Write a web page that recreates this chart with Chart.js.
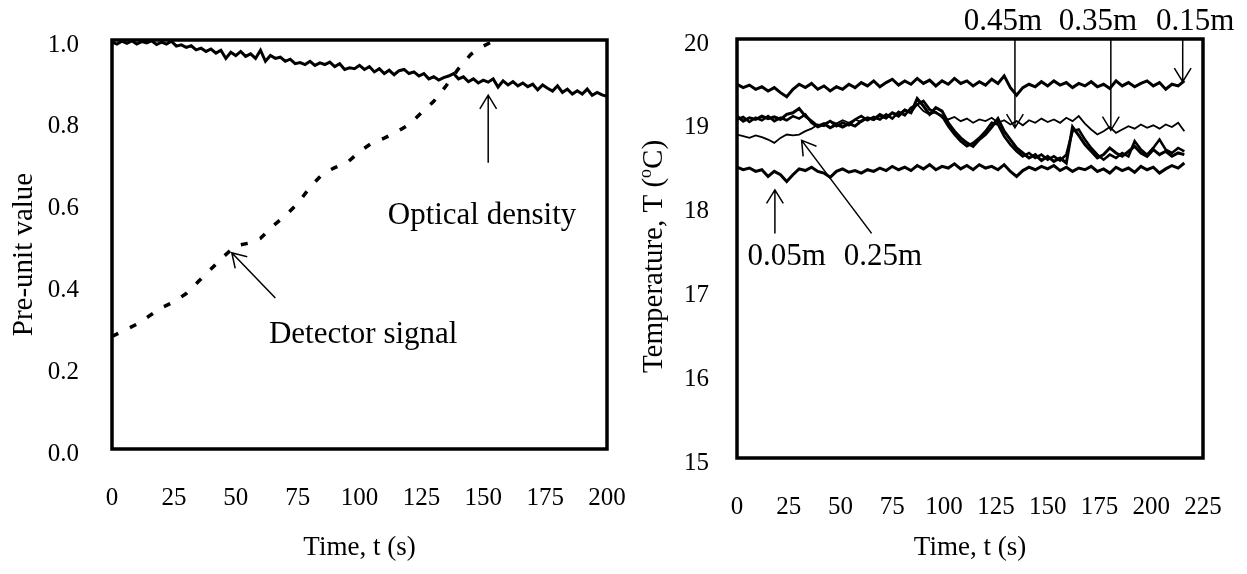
<!DOCTYPE html>
<html>
<head>
<meta charset="utf-8">
<script src="https://cdn.jsdelivr.net/npm/chart.js@4.4.1/dist/chart.umd.min.js"></script>
<style>
  html, body { margin: 0; padding: 0; background: #fff; }
  #wrap { position: relative; width: 1247px; height: 574px; }
  #left { position: absolute; left: 0; top: 0; }
  #right { position: absolute; left: 630px; top: 0; }
</style>
</head>
<body>
<div id="wrap">
  <canvas id="left" width="630" height="574"></canvas>
  <canvas id="right" width="617" height="574"></canvas>
</div>
<script>
// ---- left panel: optical density (sampled every 2 s) and detector signal ----
const odStep = 2;
const odValues = [
  0.995, 0.99, 0.997, 0.992, 0.998, 0.99, 0.996, 0.993, 0.998, 0.989,
  0.995, 0.99, 0.997, 0.985, 0.988, 0.982, 0.986, 0.976, 0.98, 0.972,
  0.978, 0.968, 0.975, 0.955, 0.97, 0.962, 0.972, 0.96, 0.966, 0.955,
  0.975, 0.948, 0.962, 0.955, 0.958, 0.948, 0.953, 0.942, 0.945, 0.94,
  0.948, 0.938, 0.944, 0.94, 0.946, 0.935, 0.942, 0.928, 0.932, 0.93,
  0.938, 0.928, 0.935, 0.922, 0.93, 0.918, 0.926, 0.915, 0.925, 0.928,
  0.918, 0.922, 0.912, 0.918, 0.905, 0.91, 0.902, 0.908, 0.912, 0.918,
  0.905, 0.91, 0.898, 0.905, 0.895, 0.902, 0.897, 0.905, 0.885, 0.9,
  0.89, 0.898, 0.888, 0.895, 0.886, 0.892, 0.878, 0.89, 0.882, 0.875,
  0.888, 0.872, 0.88, 0.868, 0.876, 0.868, 0.88, 0.865, 0.872, 0.866,
  0.862
];
const detTime = [0, 5, 10, 15, 20, 25, 30, 35, 40, 45, 50, 55, 60, 65, 70, 75,
  80, 85, 90, 95, 100, 105, 110, 115, 120, 125, 130, 135, 140, 145, 150, 155];
const detValues = [0.275, 0.29, 0.305, 0.325, 0.345, 0.36, 0.38, 0.41, 0.44, 0.47,
  0.497, 0.503, 0.515, 0.545, 0.57, 0.6, 0.64, 0.672, 0.688, 0.7, 0.727, 0.748,
  0.76, 0.775, 0.793, 0.822, 0.85, 0.888, 0.93, 0.965, 0.985, 1.0];

// ---- right panel: temperatures at five heights (sampled every 3 s) ----
const tStep = 3;
const t015 = [
  19.46, 19.42, 19.45, 19.40, 19.43, 19.38, 19.42, 19.36, 19.31, 19.40,
  19.46, 19.42, 19.47, 19.40, 19.44, 19.38, 19.43, 19.40, 19.46, 19.42,
  19.48, 19.44, 19.50, 19.43, 19.48, 19.52, 19.45, 19.50, 19.46, 19.53,
  19.47, 19.51, 19.44, 19.50, 19.46, 19.53, 19.47, 19.50, 19.44, 19.49,
  19.45, 19.52, 19.47, 19.56, 19.42, 19.33, 19.42, 19.46, 19.43, 19.49,
  19.44, 19.50, 19.45, 19.48, 19.42, 19.47, 19.44, 19.49, 19.43, 19.46,
  19.41, 19.50, 19.44, 19.48, 19.43, 19.47, 19.50, 19.44, 19.48, 19.40,
  19.46, 19.44, 19.50
];
const t005 = [
  18.47, 18.44, 18.46, 18.42, 18.44, 18.36, 18.42, 18.38, 18.30, 18.38,
  18.45, 18.43, 18.47, 18.42, 18.40, 18.35, 18.42, 18.45, 18.41, 18.43,
  18.40, 18.44, 18.42, 18.46, 18.43, 18.48, 18.44, 18.47, 18.43, 18.49,
  18.45, 18.50, 18.44, 18.48, 18.46, 18.51, 18.45, 18.49, 18.44, 18.50,
  18.46, 18.48, 18.44, 18.50, 18.42, 18.36, 18.43, 18.47, 18.44, 18.48,
  18.45, 18.49, 18.43, 18.47, 18.42, 18.46, 18.44, 18.48, 18.42, 18.45,
  18.40, 18.47, 18.43, 18.46, 18.41, 18.48, 18.44, 18.47, 18.40, 18.45,
  18.49, 18.46, 18.52
];
const t025 = [
  18.86, 18.84, 18.82, 18.85, 18.83, 18.80, 18.76, 18.82, 18.86, 18.85,
  18.86, 18.90, 18.93, 18.98, 18.96, 19.02, 18.99, 19.03, 19.00, 19.04,
  19.01, 19.06, 19.03, 19.08, 19.05, 19.12, 19.10, 19.16, 19.12, 19.22,
  19.14, 19.10, 19.13, 19.06, 19.04, 19.07, 19.02, 19.05, 19.00, 19.04,
  19.02, 19.06, 19.00, 19.03, 18.98, 19.02, 18.97, 19.03, 19.00, 19.05,
  19.01, 19.04, 19.00, 19.06, 19.02, 19.08, 18.99, 18.92, 18.86, 18.90,
  18.95, 18.88, 18.92, 18.96, 18.93, 18.98, 18.94, 18.97, 18.93, 18.98,
  18.95, 19.00, 18.90
];
const t035 = [
  19.08, 19.02, 19.06, 19.04, 19.08, 19.05, 19.07, 19.04, 19.10, 19.12,
  19.17, 19.08, 19.02, 18.96, 18.99, 18.94, 18.98, 18.95, 18.99, 18.96,
  19.02, 19.06, 19.04, 19.10, 19.06, 19.12, 19.08, 19.15, 19.12, 19.29,
  19.20, 19.10, 19.18, 19.14, 19.00, 18.90, 18.82, 18.76, 18.72, 18.80,
  18.86, 18.95, 19.05, 18.90, 18.80, 18.70, 18.64, 18.58, 18.62, 18.55,
  18.60, 18.54, 18.58, 18.52, 18.95, 18.85, 18.74, 18.66, 18.58, 18.62,
  18.70, 18.64, 18.60, 18.66, 18.72, 18.64, 18.60, 18.68, 18.62, 18.66,
  18.60, 18.64, 18.62
];
const t045 = [
  19.04, 19.07, 19.01, 19.06, 19.03, 19.08, 19.02, 19.06, 19.03, 19.08,
  19.05, 19.10, 19.00, 18.95, 18.98, 19.02, 18.96, 19.00, 18.97, 19.04,
  19.08, 19.03, 19.07, 19.04, 19.10, 19.05, 19.13, 19.09, 19.18, 19.22,
  19.26, 19.16, 19.12, 19.08, 18.96, 18.86, 18.78, 18.72, 18.76, 18.82,
  18.90, 19.00, 18.98, 18.84, 18.74, 18.66, 18.60, 18.64, 18.58, 18.62,
  18.56, 18.60, 18.55, 18.62, 18.90, 18.92, 18.80, 18.70, 18.62, 18.56,
  18.62, 18.58, 18.64, 18.60, 18.78, 18.68, 18.62, 18.70, 18.80, 18.68,
  18.64, 18.70, 18.66
];

const FONT = "'Liberation Serif', 'Times New Roman', serif";
Chart.defaults.font.family = FONT;
Chart.defaults.color = '#000';

function sampled(values, step) {
  return values.map((v, i) => ({ x: i * step, y: v }));
}
function paired(xs, ys) {
  return xs.map((x, i) => ({ x: x, y: ys[i] }));
}

// arrows, annotation text and the black frame round the plot
const framePlugin = {
  id: 'frame',
  afterDatasetsDraw(chart, args, opts) {
    const { ctx, chartArea: a } = chart;
    const x = chart.scales.x, y = chart.scales.y;
    ctx.save();
    ctx.strokeStyle = '#000';
    ctx.lineWidth = 1.5;
    (opts.arrows || []).forEach(ar => {
      const x1 = x.getPixelForValue(ar.from[0]), y1 = y.getPixelForValue(ar.from[1]);
      const x2 = x.getPixelForValue(ar.to[0]), y2 = y.getPixelForValue(ar.to[1]);
      const ang = Math.atan2(y2 - y1, x2 - x1);
      const h = 16, w = 0.55;
      ctx.beginPath();
      ctx.moveTo(x1, y1);
      ctx.lineTo(x2, y2);
      ctx.moveTo(x2 - h * Math.cos(ang - w), y2 - h * Math.sin(ang - w));
      ctx.lineTo(x2, y2);
      ctx.lineTo(x2 - h * Math.cos(ang + w), y2 - h * Math.sin(ang + w));
      ctx.stroke();
    });
    ctx.fillStyle = '#000';
    ctx.font = '31px ' + FONT;
    ctx.textAlign = 'center';
    ctx.textBaseline = 'middle';
    (opts.labels || []).forEach(l => {
      ctx.fillText(l.text, x.getPixelForValue(l.at[0]), y.getPixelForValue(l.at[1]));
    });
    ctx.lineWidth = 3.5;
    ctx.strokeRect(a.left, a.top, a.right - a.left, a.bottom - a.top);
    ctx.restore();
  }
};

// rotated y title; parts flagged sup are drawn small and raised
const yTitle = {
  id: 'yTitle',
  afterDraw(chart, args, opts) {
    const { ctx, chartArea: a } = chart;
    const f = opts.size;
    const sf = Math.round(f * 0.62);
    ctx.save();
    ctx.translate(22, (a.top + a.bottom) / 2 + opts.shift);
    ctx.rotate(-Math.PI / 2);
    ctx.fillStyle = '#000';
    ctx.textBaseline = 'alphabetic';
    ctx.textAlign = 'left';
    const widths = opts.parts.map(p => {
      ctx.font = (p.sup ? sf : f) + 'px ' + FONT;
      return ctx.measureText(p.text).width;
    });
    let sx = -widths.reduce((s, w) => s + w, 0) / 2;
    const base = f * 0.33;
    opts.parts.forEach((p, i) => {
      ctx.font = (p.sup ? sf : f) + 'px ' + FONT;
      ctx.fillText(p.text, sx, p.sup ? base - f * 0.36 : base);
      sx += widths[i];
    });
    ctx.restore();
  }
};

function axisX(max, height) {
  return {
    type: 'linear', min: 0, max: max,
    grid: { display: false, drawTicks: false },
    border: { display: false },
    ticks: { stepSize: 25, font: { size: 25 }, padding: 34, maxRotation: 0 },
    title: { display: true, text: 'Time, t (s)', font: { size: 27 }, padding: { top: 0, bottom: 10 } },
    afterFit: s => { s.height = height; s.paddingLeft = 0; s.paddingRight = 0; }
  };
}

function axisY(min, max, step, width, pad, fmt) {
  return {
    type: 'linear', min: min, max: max,
    grid: { display: false, drawTicks: false },
    border: { display: false },
    ticks: { stepSize: step, font: { size: 25 }, padding: pad, labelOffset: 5, callback: fmt },
    afterFit: s => { s.width = width; s.paddingTop = 0; s.paddingBottom = 0; }
  };
}

new Chart(document.getElementById('left'), {
  type: 'line',
  data: {
    datasets: [
      { label: 'Optical density', data: sampled(odValues, odStep),
        borderColor: '#000', borderWidth: 3, pointRadius: 0, tension: 0 },
      { label: 'Detector signal', data: paired(detTime, detValues),
        borderColor: '#000', borderWidth: 3.5, borderDash: [7, 13], pointRadius: 0, tension: 0 }
    ]
  },
  options: {
    responsive: false, animation: false,
    layout: { padding: { left: 0, right: 23, top: 40, bottom: 0 } },
    plugins: {
      legend: { display: false }, tooltip: { enabled: false },
      yTitle: { size: 29, shift: 10, parts: [{ text: 'Pre-unit value' }] },
      frame: {
        arrows: [
          { from: [152, 0.70], to: [152, 0.865] },
          { from: [66, 0.369], to: [48.4, 0.48] }
        ],
        labels: [
          { text: 'Optical density', at: [149.5, 0.57] },
          { text: 'Detector signal', at: [101.5, 0.279] }
        ]
      }
    },
    scales: {
      x: axisX(200, 125),
      y: axisY(0, 1, 0.2, 112, 33, v => v.toFixed(1))
    }
  },
  plugins: [framePlugin, yTitle]
});

new Chart(document.getElementById('right'), {
  type: 'line',
  data: {
    datasets: [
      { label: '0.05m', data: sampled(t005, tStep), borderColor: '#000', borderWidth: 3, pointRadius: 0 },
      { label: '0.15m', data: sampled(t015, tStep), borderColor: '#000', borderWidth: 3, pointRadius: 0 },
      { label: '0.25m', data: sampled(t025, tStep), borderColor: '#000', borderWidth: 1.8, pointRadius: 0 },
      { label: '0.35m', data: sampled(t035, tStep), borderColor: '#000', borderWidth: 3, pointRadius: 0 },
      { label: '0.45m', data: sampled(t045, tStep), borderColor: '#000', borderWidth: 2.6, pointRadius: 0 }
    ]
  },
  options: {
    responsive: false, animation: false,
    layout: { padding: { left: 0, right: 44, top: 39, bottom: 0 } },
    plugins: {
      legend: { display: false }, tooltip: { enabled: false },
      yTitle: { size: 29, shift: 8, parts: [{ text: 'Temperature, T (' }, { text: 'o', sup: true }, { text: 'C)' }] },
      frame: {
        arrows: [
          { from: [134.2, 20], to: [134.2, 18.94] },
          { from: [180.5, 20], to: [180.5, 18.91] },
          { from: [215.2, 20], to: [215.2, 19.49] },
          { from: [18.3, 17.68], to: [18.3, 18.2] },
          { from: [65, 17.68], to: [31.2, 18.79] }
        ],
        labels: [
          { text: '0.45m', at: [128.4, 20.2] },
          { text: '0.35m', at: [174.3, 20.2] },
          { text: '0.15m', at: [221.2, 20.2] },
          { text: '0.05m', at: [24, 17.4] },
          { text: '0.25m', at: [70.5, 17.4] }
        ]
      }
    },
    scales: {
      x: axisX(225, 116),
      y: axisY(15, 20, 1, 107, 28)
    }
  },
  plugins: [framePlugin, yTitle]
});
</script>
</body>
</html>
